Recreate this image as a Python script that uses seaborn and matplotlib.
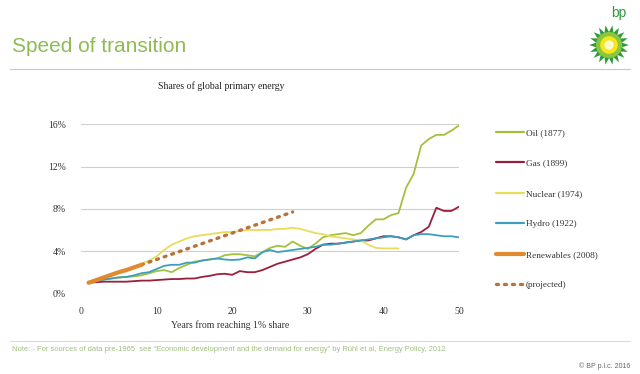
import numpy as np
import pandas as pd
import matplotlib
matplotlib.use("Agg")
import matplotlib.pyplot as plt
import seaborn as sns
from matplotlib.lines import Line2D
from matplotlib.patches import Circle, Polygon

# ---- data ----
oil_years = list(range(1, 51))
oil = [1.0, 1.15, 1.3, 1.4, 1.5, 1.55, 1.6, 1.7, 1.9, 2.1, 2.2, 2.0, 2.4, 2.7, 3.0, 3.1, 3.2, 3.3, 3.6, 3.7,
       3.7, 3.6, 3.5, 3.9, 4.3, 4.5, 4.4, 4.9, 4.5, 4.2, 4.7, 5.3, 5.5, 5.6, 5.7, 5.5, 5.7, 6.4, 7.0, 7.0,
       7.4, 7.6, 10.0, 11.3, 14.0, 14.6, 15.0, 15.0, 15.4, 15.9]
gas_years = list(range(1, 51))
gas = [1.0, 1.05, 1.1, 1.1, 1.1, 1.1, 1.15, 1.2, 1.2, 1.25, 1.3, 1.35, 1.35, 1.4, 1.4, 1.55, 1.65, 1.8, 1.85, 1.75,
       2.1, 2.0, 2.0, 2.2, 2.5, 2.8, 3.0, 3.2, 3.4, 3.7, 4.2, 4.6, 4.7, 4.7, 4.8, 4.9, 5.0, 5.0, 5.2, 5.4,
       5.4, 5.3, 5.1, 5.5, 5.8, 6.3, 8.1, 7.8, 7.8, 8.2]
nuclear_years = list(range(1, 43))
nuclear = [1.0, 1.25, 1.5, 1.75, 2.0, 2.2, 2.5, 2.8, 3.1, 3.5, 4.1, 4.6, 4.9, 5.2, 5.4, 5.5, 5.6, 5.7, 5.8, 5.8,
           5.9, 6.0, 6.0, 6.0, 6.0, 6.1, 6.1, 6.2, 6.1, 5.9, 5.7, 5.6, 5.4, 5.3, 5.2, 5.1, 5.0, 4.6, 4.3, 4.25,
           4.25, 4.25]
hydro_years = list(range(1, 51))
hydro = [1.0, 1.15, 1.3, 1.4, 1.5, 1.55, 1.7, 1.9, 2.0, 2.3, 2.6, 2.7, 2.7, 2.9, 2.9, 3.1, 3.2, 3.3, 3.2, 3.15,
         3.2, 3.4, 3.3, 3.9, 4.1, 3.9, 4.0, 4.1, 4.2, 4.3, 4.4, 4.6, 4.6, 4.7, 4.8, 4.9, 5.0, 5.1, 5.2, 5.3,
         5.4, 5.3, 5.1, 5.5, 5.6, 5.6, 5.5, 5.4, 5.4, 5.3]
renew_years = [1, 2, 3, 4, 5, 6, 7, 8]
renew = [1.0, 1.25, 1.5, 1.75, 2.0, 2.2, 2.45, 2.7]
proj_years = [8, 10, 12, 14, 16, 18, 20, 22, 24, 26, 28]
proj = [2.7, 3.2, 3.7, 4.2, 4.7, 5.2, 5.7, 6.2, 6.7, 7.2, 7.7]

labels = ["Oil (1877)", "Gas (1899)", "Nuclear (1974)", "Hydro (1922)", "Renewables (2008)"]
colors = ["#a4c13e", "#9a1f3c", "#eadc5a", "#3c9fbd", "#df8a2e"]
proj_label = "(projected)"
proj_color = "#b8733c"
x_ticks = [0, 10, 20, 30, 40, 50]
y_ticks = [0, 4, 8, 12, 16]

frames = []
for lab, yrs, vals in zip(labels, [oil_years, gas_years, nuclear_years, hydro_years, renew_years],
                          [oil, gas, nuclear, hydro, renew]):
    frames.append(pd.DataFrame({"year": yrs, "share": vals, "series": lab}))
df = pd.concat(frames, ignore_index=True)
df_proj = pd.DataFrame({"year": proj_years, "share": proj})

sns.set_theme(style="white")
serif = ["Liberation Serif", "DejaVu Serif"]
sans = ["Liberation Sans", "DejaVu Sans"]

fig = plt.figure(figsize=(6.4, 3.74), dpi=100)
fig.patch.set_facecolor("white")
ax = fig.add_axes([81 / 640, 1 - 293.3 / 374, (459 - 81) / 640, (293.3 - 124.3) / 374])
ax.set_facecolor("white")

pal = dict(zip(labels, colors))
for lab in labels[:4]:
    sns.lineplot(data=df[df.series == lab], x="year", y="share", color=pal[lab],
                 linewidth=1.3, ax=ax, legend=False, zorder=3)
sns.lineplot(data=df_proj, x="year", y="share", color=proj_color, linewidth=2.4,
             linestyle=(0, (0.6, 1.8)), dash_capstyle="round", ax=ax, legend=False, zorder=4)
sns.lineplot(data=df[df.series == labels[4]], x="year", y="share", color=pal[labels[4]],
             linewidth=3.0, ax=ax, legend=False, zorder=5)

ax.set_xlim(0, 50)
ax.set_ylim(0, 16)
ax.set_xticks(x_ticks)
ax.set_yticks(y_ticks)
ax.set_xticklabels([str(t) for t in x_ticks], family=serif, fontsize=7, color="#333333")
ax.set_yticklabels([f"{t}%" for t in y_ticks], family=serif, fontsize=7, color="#333333")
ax.tick_params(axis="x", length=0, pad=10)
ax.tick_params(axis="y", length=0, pad=11)
ax.yaxis.grid(True, color="#cfcfcf", linewidth=0.8)
ax.xaxis.grid(False)
for s in ax.spines.values():
    s.set_visible(False)
ax.set_xlabel("")
ax.set_ylabel("")

fig.text(230 / 640, 1 - 325 / 374, "Years from reaching 1% share", family=serif, fontsize=7,
         color="#333333", ha="center", va="center")

# legend
handles = [Line2D([], [], color=c, linewidth=(3.0 if lab.startswith("Renew") else 1.6))
           for lab, c in zip(labels, colors)]
handles.append(Line2D([], [], color=proj_color, linewidth=2.4, linestyle=(0, (0.6, 1.8)),
                      dash_capstyle="round"))
leg = fig.legend(handles, labels + [proj_label], loc="upper left",
                 bbox_to_anchor=(492 / 640, 1 - 125 / 374), frameon=False,
                 prop={"family": serif, "size": 6.7}, labelspacing=2.35,
                 handlelength=3.0, handletextpad=0.2, borderaxespad=0)
for t in leg.get_texts():
    t.set_color("#333333")

# header
fig.text(12 / 640, 1 - 46 / 374, "Speed of transition", family=sans, fontsize=15,
         color="#8fbb55", ha="left", va="center")
fig.add_artist(Line2D([10 / 640, 630 / 640], [1 - 69 / 374, 1 - 69 / 374], color="#c8c8c8", linewidth=0.8))
fig.text(221 / 640, 1 - 86 / 374, "Shares of global primary energy", family=serif, fontsize=7,
         color="#222222", ha="center", va="center")

# footer
fig.add_artist(Line2D([10 / 640, 630 / 640], [1 - 341 / 374, 1 - 341 / 374], color="#d0d0d0", linewidth=0.6))
fig.text(12 / 640, 1 - 349.5 / 374,
         "Note: - For sources of data pre-1965  see \u201cEconomic development and the demand for energy\u201d by R\u00fchl et al, Energy Policy, 2012",
         family=sans, fontsize=5.4, color="#9fc080", ha="left", va="center")
fig.text(630 / 640, 1 - 366 / 374, "\u00a9 BP p.l.c. 2016", family=sans, fontsize=5,
         color="#666666", ha="right", va="center")

# BP logo (decorative)
lax = fig.add_axes([588 / 640, 1 - 66 / 374, 42 / 640, 42 / 374])
lax.set_xlim(-1, 1)
lax.set_ylim(-1, 1)
lax.set_aspect("equal")
lax.axis("off")
n = 18
pts = []
for i in range(2 * n):
    ang = np.pi * i / n
    r = 0.95 if i % 2 == 0 else 0.62
    pts.append((r * np.cos(ang), r * np.sin(ang)))
lax.add_patch(Polygon(pts, closed=True, facecolor="#2e9a3a", edgecolor="none"))
lax.add_patch(Circle((0, 0), 0.62, facecolor="#8cc63f", edgecolor="none"))
lax.add_patch(Circle((0, 0), 0.42, facecolor="#f5e61e", edgecolor="none"))
lax.add_patch(Circle((0, 0), 0.22, facecolor="#fffbd0", edgecolor="none"))
fig.text(626 / 640, 1 - 13 / 374, "bp", family=sans, fontsize=10, color="#2e9a3a",
         ha="right", va="center")

fig.savefig("out.png", dpi=100, facecolor="white")
